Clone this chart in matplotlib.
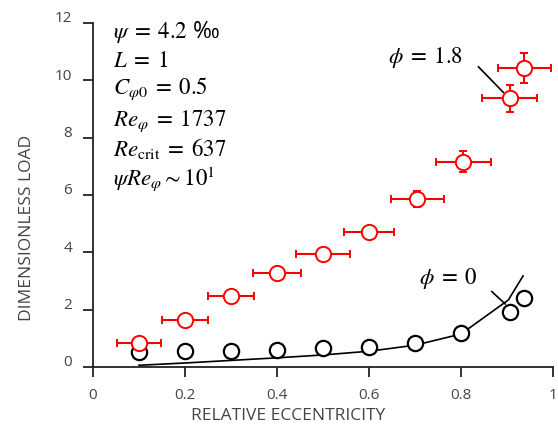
import numpy as np
import matplotlib
matplotlib.use("Agg")
import matplotlib.pyplot as plt
from matplotlib.transforms import ScaledTranslation

plt.rcParams['font.family'] = ['Open Sans', 'DejaVu Sans']
plt.rcParams['mathtext.fontset'] = 'stix'

# measured load, phi = 1.8 (red, with scatter bars)
ecc_red = [0.1, 0.2, 0.3, 0.4, 0.5, 0.6, 0.705, 0.805, 0.906, 0.938]
load_red = [0.83, 1.63, 2.47, 3.27, 3.93, 4.70, 5.86, 7.16, 9.37, 10.42]
xerr_red = [0.047, 0.049, 0.05, 0.053, 0.059, 0.055, 0.058, 0.06, 0.06, 0.058]
yerr_red = [0.1, 0.1, 0.1, 0.1, 0.1, 0.15, 0.28, 0.37, 0.48, 0.53]

# measured load, phi = 0
ecc_blk = [0.1, 0.2, 0.3, 0.4, 0.5, 0.6, 0.7, 0.8, 0.906, 0.938]
load_blk = [0.53, 0.56, 0.56, 0.59, 0.65, 0.71, 0.85, 1.17, 1.93, 2.42]

# theory curve, phi = 0
ecc_th = [0.1, 0.2, 0.3, 0.4, 0.5, 0.6, 0.7, 0.8, 0.903, 0.935]
load_th = [0.06, 0.14, 0.23, 0.32, 0.42, 0.55, 0.76, 1.15, 2.34, 3.18]

params = [r'$\psi\;=\;4.2$ ‰', r'$L\;=\;1$', r'$C_{\varphi 0}\;=\;0.5$',
          r'$Re_{\varphi}\;=\;1737$', r'$Re_{\mathrm{crit}}\;=\;637$',
          r'$\psi Re_{\varphi}{\sim}10^1$']
param_y = [11.48, 10.47, 9.52, 8.41, 7.36, 6.36]

fig = plt.figure(figsize=(5.58, 4.26), dpi=100)
ax = fig.add_axes([93/558, 59/426, 460/558, 344/426])

ax.plot(ecc_th, load_th, color='black', lw=1.2, zorder=2)
ax.plot(ecc_blk, load_blk, 'o', ms=11, mfc='white', mec='black', mew=1.6, zorder=3)
ax.errorbar(ecc_red, load_red, xerr=xerr_red, yerr=yerr_red, fmt='o', ms=11,
            mfc='white', mec='red', mew=1.4, ecolor='red', elinewidth=1.5,
            capsize=2.8, capthick=1.5, zorder=4)

for s, y in zip(params, param_y):
    ax.text(0.043, y, s, fontsize=16.5, va='baseline', ha='left', color='black')

ax.text(0.641, 10.6, r'$\phi\;=\;1.8$', fontsize=16.5, va='baseline')
ax.plot([0.838, 0.892], [10.47, 9.58], color='black', lw=1.2)
ax.text(0.709, 2.88, r'$\phi\;=\;0$', fontsize=16.5, va='baseline')
ax.plot([0.867, 0.896], [2.63, 2.20], color='black', lw=1.2)

ax.set_xlim(0, 1)
ax.set_ylim(0, 12)
ax.set_xticks([0, 0.2, 0.4, 0.6, 0.8, 1])
ax.set_xticklabels(['0', '0.2', '0.4', '0.6', '0.8', '1'])
ax.set_yticks(range(0, 13, 2))

for side in ['top', 'right']:
    ax.spines[side].set_visible(False)
for side in ['left', 'bottom']:
    ax.spines[side].set_linewidth(1.3)
    ax.spines[side].set_color('#222222')

ax.tick_params(direction='out', length=7, width=1.3, color='#222222',
               labelsize=11, labelcolor='#444444', pad=8)
for lbl in ax.get_yticklabels():
    lbl.set_transform(lbl.get_transform() + ScaledTranslation(0, 0.06, fig.dpi_scale_trans))

ax.set_xlabel('RELATIVE ECCENTRICITY', fontsize=12.5, color='#444444')
ax.xaxis.set_label_coords(0.424, -0.118)
ax.set_ylabel('DIMENSIONLESS LOAD', fontsize=12.5, color='#444444', va='center')
ax.yaxis.set_label_coords(-0.1435, 0.404)

fig.savefig('out.png', dpi=100)
